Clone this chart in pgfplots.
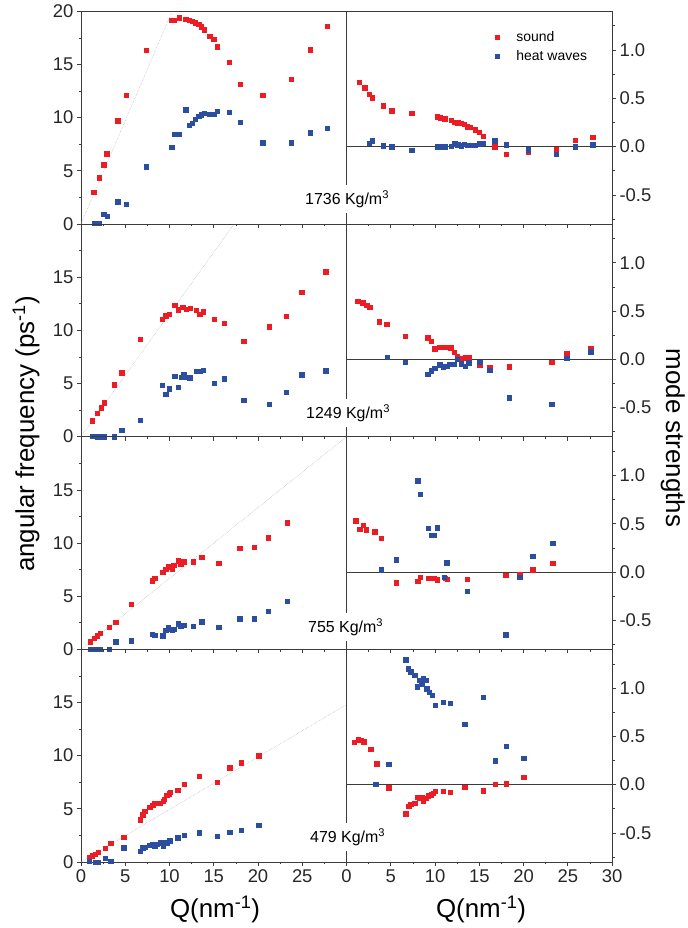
\documentclass[border=0pt]{standalone}
\usepackage{fontspec}
\setmainfont{Liberation Sans}
\usepackage{pgfplots}
\pgfplotsset{compat=1.18}
\definecolor{sred}{RGB}{236,28,36}
\definecolor{hblue}{RGB}{44,78,160}
\definecolor{axc}{RGB}{60,60,60}
\pgfplotsset{
  base/.style={scale only axis, width=265.5bp, height=212.6bp, anchor=north west,
    xmin=0, xmax=30, xtick={0,5,...,30}, minor x tick num=1,
    tick align=outside, xtick pos=bottom, xticklabel pos=bottom,
    axis line style={axc, line width=0.7bp}, tick style={axc, line width=0.6bp},
    major tick length=4bp, minor tick length=2.5bp,
    tick label style={font=\fontsize{18.5}{20}\selectfont, color=black!85},
    /pgf/number format/assume math mode=true,
    xticklabels={}},
  lft/.style={base, ymin=0, ymax=20, ytick={0,5,10,15,20}, minor y tick num=1,
    ytick pos=left, yticklabel pos=left, yticklabels={0,5,10,15,{}}},
  rgt/.style={base, ymin=-0.8, ymax=1.4, ytick={-0.5,0,0.5,1},
    minor ytick={-0.75,-0.25,0.25,0.75,1.25},
    yticklabels={-0.5,0.0,0.5,1.0}, ytick pos=right, yticklabel pos=right},
  sr/.style={only marks, mark=square*, mark size=2.2bp, color=sred},
  hb/.style={only marks, mark=square*, mark size=2.2bp, color=hblue},
  refl/.style={gray!60, densely dotted, line width=0.5bp, forget plot},
  zl/.style={axc, line width=0.6bp, forget plot},
}
\begin{document}
\begin{tikzpicture}
\useasboundingbox (0,0) rectangle (688bp,-928bp);
% ---------------- Row 1 : 1736 ----------------
\begin{axis}[lft, at={(81bp,-11.3bp)}, yticklabels={0,5,10,15,20}]
\addplot[refl] coordinates {(0,0) (15.45,30)};
\addplot[sr] coordinates {(1.43,2.98)(2.04,4.36)(2.56,5.58)(2.90,6.61)(4.15,9.69)(5.09,12.10)(7.35,16.33)(10.26,19.15)(10.56,19.18)(11.09,19.40)(11.84,19.28)(12.22,19.18)(12.56,19.06)(12.93,18.93)(13.31,18.78)(13.61,18.56)(13.91,18.28)(14.52,17.68)(15.01,17.37)(15.42,16.68)(16.74,15.20)(18.02,13.17)(20.55,12.10)(23.72,13.64)(25.87,16.39)(27.83,18.59)};
\addplot[hb] coordinates {(1.47,0.06)(2.07,0.06)(2.56,0.91)(2.94,0.72)(4.15,2.10)(5.09,1.85)(7.35,5.39)(10.26,7.21)(10.56,8.46)(11.09,8.46)(11.84,10.75)(12.22,9.28)(12.56,9.50)(12.93,9.87)(13.31,10.13)(13.61,10.28)(13.91,10.44)(14.52,10.34)(15.01,10.34)(15.42,10.60)(16.74,10.50)(18.02,9.56)(20.55,7.65)(23.72,7.65)(25.87,8.59)(27.83,9.03)};
\end{axis}
\begin{axis}[rgt, at={(346.5bp,-11.3bp)},
  legend style={at={(0.555,0.915)}, anchor=north west, draw=none, fill=none,
    font=\fontsize{14}{16}\selectfont, row sep=3bp, inner sep=0pt}, legend cell align=left,
  legend image code/.code={\path (-3bp,0) (17bp,0); \draw[#1] plot coordinates {(0bp,0bp)};}]
\addplot[zl] coordinates {(0,0) (30,0)};
\addplot[sr] coordinates {(1.43,0.665)(2.04,0.610)(2.56,0.541)(2.90,0.507)(4.15,0.424)(5.09,0.372)(7.35,0.345)(10.26,0.310)(10.56,0.300)(11.09,0.290)(11.84,0.276)(12.22,0.255)(12.56,0.248)(12.93,0.240)(13.31,0.234)(13.61,0.207)(13.91,0.200)(14.52,0.176)(15.01,0.148)(15.42,0.110)(16.74,0.0)(18.02,-0.079)(20.55,-0.055)(23.72,-0.034)(25.87,0.069)(27.83,0.097)};
\addlegendentry{sound}
\addplot[hb] coordinates {(2.56,0.038)(2.90,0.059)(4.15,0.010)(5.09,-0.003)(7.35,-0.038)(10.26,0.0)(10.56,0.0)(11.09,0.0)(11.84,0.003)(12.22,0.028)(12.56,0.020)(12.93,0.010)(13.31,0.024)(13.61,0.017)(13.91,0.017)(14.52,0.017)(15.01,0.028)(15.42,0.034)(16.74,0.062)(18.02,0.021)(20.55,-0.031)(23.72,-0.076)(25.87,0.0)(27.83,0.021)};
\addlegendentry{heat waves}
\end{axis}
% ---------------- Row 2 : 1249 ----------------
\begin{axis}[lft, at={(81bp,-224bp)}]
\addplot[refl] coordinates {(0,0) (17.3,20)};
\addplot[sr] coordinates {(1.28,1.51)(1.85,2.23)(2.26,2.73)(2.60,3.20)(3.73,4.89)(4.60,6.02)(6.67,9.16)(9.16,11.07)(9.58,11.38)(9.95,11.54)(10.60,12.35)(10.97,11.94)(11.50,12.17)(11.88,11.98)(12.37,12.07)(13.01,11.88)(13.39,11.51)(13.80,11.76)(15.05,11.04)(16.18,10.66)(18.40,9.00)(21.27,10.35)(23.19,11.32)(24.96,13.61)(27.64,15.52)};
\addplot[hb] coordinates {(1.28,0.03)(1.85,0)(2.26,0)(2.60,0)(3.73,0)(4.60,0.63)(6.67,1.57)(9.16,4.86)(9.58,3.98)(9.95,4.52)(10.60,5.71)(10.97,4.67)(11.30,5.58)(11.60,5.86)(11.90,5.60)(12.30,5.55)(13.01,6.13)(13.39,6.17)(13.80,6.27)(15.05,5.05)(16.18,5.46)(18.40,3.45)(21.27,3.07)(23.19,4.17)(24.96,5.83)(27.64,6.21)};
\end{axis}
\begin{axis}[rgt, at={(346.5bp,-224bp)}]
\addplot[zl] coordinates {(0,0) (30,0)};
\addplot[sr] coordinates {(1.28,0.603)(1.81,0.586)(2.26,0.558)(2.64,0.537)(3.69,0.389)(4.56,0.362)(6.64,0.238)(9.17,0.224)(9.58,0.186)(9.96,0.110)(10.52,0.127)(10.94,0.124)(11.32,0.124)(11.77,0.120)(12.18,0.072)(12.52,0.027)(12.98,0.013)(13.40,0.017)(13.81,0.024)(15.05,-0.062)(16.19,-0.080)(18.41,-0.076)(23.17,-0.028)(24.90,0.058)(27.60,0.113)};
\addplot[hb] coordinates {(4.60,0.024)(6.64,-0.031)(9.17,-0.155)(9.58,-0.117)(9.96,-0.093)(10.52,-0.056)(10.94,-0.076)(11.32,-0.072)(11.58,-0.052)(12.18,-0.049)(12.52,0.0)(12.98,-0.045)(13.40,-0.069)(13.81,-0.035)(15.05,-0.031)(16.19,-0.110)(18.41,-0.397)(23.17,-0.462)(24.90,0.010)(27.60,0.079)};
\end{axis}
% ---------------- Row 3 : 755 ----------------
\begin{axis}[lft, at={(81bp,-436.7bp)}]
\addplot[refl] coordinates {(0,0) (30,20)};
\addplot[sr] coordinates {(1.06,0.72)(1.47,1.03)(1.85,1.28)(2.19,1.50)(3.17,2.07)(3.92,2.57)(5.66,4.26)(8.03,6.45)(8.33,6.70)(9.24,7.24)(9.58,7.55)(9.84,7.83)(10.11,7.77)(10.33,7.55)(10.48,7.90)(10.97,8.34)(11.27,8.05)(11.61,8.24)(12.67,8.24)(13.65,8.65)(15.57,8.08)(17.95,9.49)(19.57,9.62)(21.12,10.50)(23.30,11.91)};
\addplot[hb] coordinates {(1.06,0)(1.47,0)(1.85,0)(2.19,0)(3.17,0.03)(3.92,0.72)(5.66,0.82)(8.03,1.44)(8.33,1.31)(9.24,1.28)(9.58,1.81)(9.84,2.10)(10.11,1.88)(10.33,1.79)(10.48,1.88)(10.97,2.41)(11.27,2.22)(11.61,2.28)(12.67,2.19)(13.65,2.60)(15.57,2.07)(17.95,2.88)(19.57,2.88)(21.12,3.60)(23.30,4.51)};
\end{axis}
\begin{axis}[rgt, at={(346.5bp,-436.7bp)}]
\addplot[zl] coordinates {(0,0) (30,0)};
\addplot[sr] coordinates {(1.05,0.531)(1.51,0.445)(1.89,0.486)(2.23,0.438)(3.17,0.417)(3.89,0.348)(5.62,-0.110)(8.04,-0.097)(8.34,-0.055)(9.20,-0.062)(9.54,-0.062)(9.85,-0.062)(10.26,-0.079)(11.17,-0.065)(11.39,-0.072)(13.66,-0.075)(18.00,-0.034)(19.58,-0.020)(21.05,0.024)(23.32,0.093)};
\addplot[hb] coordinates {(3.89,0.024)(5.62,0.128)(8.04,0.945)(8.34,0.803)(9.20,0.455)(9.54,0.383)(9.85,0.383)(10.26,0.459)(11.02,-0.055)(11.32,0.097)(13.66,-0.200)(18.00,-0.648)(19.58,-0.055)(21.05,0.166)(23.32,0.300)};
\end{axis}
% ---------------- Row 4 : 479 ----------------
\begin{axis}[lft, at={(81bp,-649.3bp)}, xticklabels={0,5,10,15,20,25,{}}]
\addplot[refl] coordinates {(0,0) (30,14.8)};
\addplot[sr] coordinates {(0.91,0.41)(1.28,0.57)(1.62,0.75)(1.92,0.91)(2.71,1.29)(3.36,1.76)(4.83,2.32)(6.71,3.98)(6.98,4.45)(7.20,4.77)(7.77,5.17)(8.11,5.33)(8.33,5.52)(8.60,5.52)(8.97,5.55)(9.28,5.71)(9.43,5.89)(9.69,6.27)(9.99,6.43)(10.11,6.55)(10.94,6.77)(11.69,7.30)(13.35,8.09)(15.42,7.52)(16.82,8.87)(18.10,9.34)(20.06,10.00)};
\addplot[hb] coordinates {(0.91,0.07)(1.62,0)(1.92,0)(2.71,0.35)(3.36,0.07)(4.83,1.32)(6.71,1.00)(6.98,1.32)(7.20,1.41)(7.77,1.57)(8.11,1.66)(8.33,1.50)(8.60,1.66)(8.97,1.79)(9.28,1.47)(9.43,1.85)(9.69,1.76)(9.99,2.07)(10.11,1.98)(10.94,2.26)(11.69,2.51)(13.35,2.76)(15.42,2.41)(16.82,2.79)(18.10,3.01)(20.06,3.48)};
\end{axis}
\begin{axis}[rgt, at={(346.5bp,-649.3bp)}, xticklabels={0,5,10,15,20,25,30}]
\addplot[zl] coordinates {(0,0) (30,0)};
\addplot[sr] coordinates {(0.90,0.441)(1.32,0.465)(1.66,0.458)(1.96,0.445)(2.75,0.365)(3.40,0.217)(4.79,-0.034)(6.68,-0.303)(7.02,-0.224)(7.24,-0.200)(7.70,-0.190)(7.96,-0.128)(8.19,-0.141)(8.49,-0.131)(8.68,-0.169)(8.94,-0.138)(9.24,-0.114)(9.54,-0.103)(9.77,-0.090)(10.03,-0.069)(10.90,-0.069)(11.73,-0.079)(13.35,-0.028)(15.43,-0.062)(16.79,0.007)(18.07,0.010)(20.03,0.076)};
\addplot[hb] coordinates {(3.32,0.007)(4.79,0.210)(6.68,1.293)(6.94,1.200)(7.24,1.169)(7.70,1.134)(7.96,1.013)(8.19,1.082)(8.49,1.041)(8.68,1.096)(8.94,1.082)(9.06,0.993)(9.36,0.958)(9.70,0.924)(10.03,0.820)(10.90,0.855)(11.73,0.841)(13.35,0.624)(15.43,0.907)(16.79,0.248)(18.07,0.396)(20.03,0.272)};
\end{axis}
% ---------------- labels ----------------
\begin{scope}[every node/.style={font=\fontsize{16}{18}\selectfont, fill=white, inner xsep=2bp, minimum height=28bp, anchor=west}]
\node at (303bp,-199bp) {1736 Kg/m\textsuperscript{3}};
\node at (304bp,-413bp) {1249 Kg/m\textsuperscript{3}};
\node at (306bp,-627bp) {755 Kg/m\textsuperscript{3}};
\node at (308bp,-837bp) {479 Kg/m\textsuperscript{3}};
\end{scope}
\node[rotate=90, anchor=base, font=\fontsize{26}{28}\selectfont] at (34bp,-434bp) {angular frequency (ps\textsuperscript{-1})};
\node[rotate=-90, anchor=base, font=\fontsize{26}{28}\selectfont] at (666bp,-438bp) {mode strengths};
\node[anchor=base, font=\fontsize{26}{28}\selectfont] at (215bp,-917bp) {Q(nm\textsuperscript{-1})};
\node[anchor=base, font=\fontsize{26}{28}\selectfont] at (481bp,-917bp) {Q(nm\textsuperscript{-1})};
\end{tikzpicture}
\end{document}
